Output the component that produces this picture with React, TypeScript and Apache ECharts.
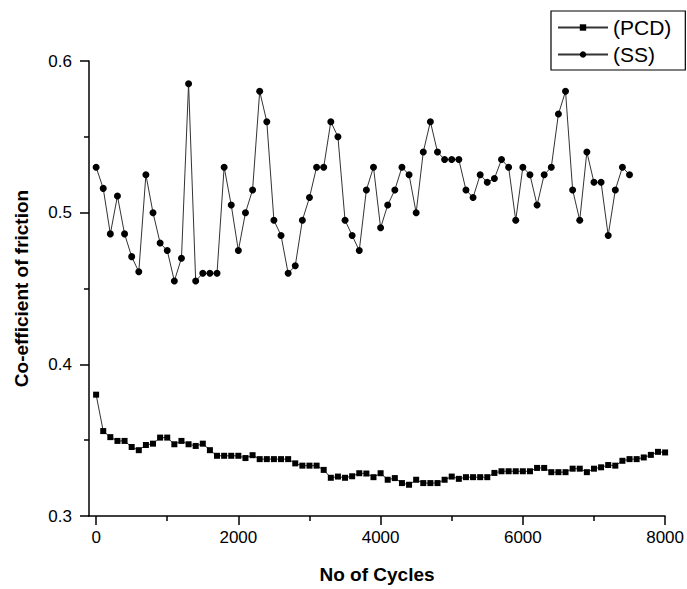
import React, { useEffect, useRef } from "react";
import * as echarts from "echarts";

const cycleStep = 100;
const seriesNames = ["(PCD)", "(SS)"];
const pcdValues = [
  0.38, 0.356, 0.352, 0.3495, 0.3495, 0.3455, 0.3434, 0.3468, 0.3477, 0.3517,
  0.3517, 0.3473, 0.3495, 0.3473, 0.3462, 0.3477, 0.3434, 0.3397, 0.3397, 0.3397,
  0.3397, 0.3382, 0.3401, 0.3375, 0.3375, 0.3375, 0.3375, 0.3375, 0.3347, 0.3332,
  0.3332, 0.3332, 0.3304, 0.3252, 0.326, 0.3252, 0.3262, 0.3282, 0.328, 0.3256,
  0.3282, 0.3239, 0.325, 0.3217, 0.3206, 0.3239, 0.3217, 0.3217, 0.3217, 0.3239,
  0.326, 0.3245, 0.3256, 0.3256, 0.3256, 0.3256, 0.3284, 0.3295, 0.3295, 0.3295,
  0.3295, 0.3295, 0.3317, 0.3317, 0.3289, 0.3289, 0.3289, 0.3312, 0.3312, 0.3289,
  0.3312, 0.3321, 0.3336, 0.3332, 0.3364, 0.3375, 0.3375, 0.3386, 0.3403, 0.3423,
  0.3419,
];
const ssValues = [
  0.53, 0.516, 0.486, 0.511, 0.486, 0.471, 0.461, 0.525, 0.5, 0.48,
  0.475, 0.455, 0.47, 0.585, 0.455, 0.46, 0.46, 0.46, 0.53, 0.505,
  0.475, 0.5, 0.515, 0.58, 0.56, 0.495, 0.485, 0.46, 0.465, 0.495,
  0.51, 0.53, 0.53, 0.56, 0.55, 0.495, 0.485, 0.475, 0.515, 0.53,
  0.49, 0.505, 0.515, 0.53, 0.525, 0.5, 0.54, 0.56, 0.54, 0.535,
  0.535, 0.535, 0.515, 0.51, 0.525, 0.52, 0.5225, 0.535, 0.53, 0.495,
  0.53, 0.525, 0.505, 0.525, 0.53, 0.565, 0.58, 0.515, 0.495, 0.54,
  0.52, 0.52, 0.485, 0.515, 0.53, 0.525,
];
const xTickValues = [0, 2000, 4000, 6000, 8000];
const xMinorTickValues = [1000, 3000, 5000, 7000];

const FONT = "'Liberation Sans', Arial, sans-serif";

export default function App() {
  const ref = useRef<HTMLDivElement>(null);
  useEffect(() => {
    if (!ref.current) return;
    const chart = echarts.init(ref.current, null, { renderer: "svg" });
    const axisLine = { show: true, onZero: false, lineStyle: { color: "#000", width: 1.5 } };
    const tickStyle = { color: "#000", width: 1.5 };
    chart.setOption({
      animation: false,
      backgroundColor: "#fff",
      textStyle: { fontFamily: FONT, color: "#000" },
      grid: { left: 89, right: 20, top: 61, bottom: 66, containLabel: false },
      legend: {
        data: seriesNames,
        orient: "vertical",
        left: 551,
        top: 11,
        itemWidth: 50,
        itemHeight: 8,
        itemGap: 6,
        padding: [6, 14, 5, 6],
        borderColor: "#000",
        borderWidth: 1.2,
        backgroundColor: "#fff",
        textStyle: { fontFamily: FONT, fontSize: 21, color: "#000" },
      },
      xAxis: [
        {
          type: "value",
          min: -100,
          max: 8000,
          name: "No of Cycles",
          nameLocation: "middle",
          nameGap: 49,
          nameTextStyle: { fontFamily: FONT, fontSize: 19, fontWeight: "bold", color: "#000" },
          axisLine,
          axisTick: { show: true, customValues: xTickValues, length: 9, lineStyle: tickStyle },
          axisLabel: {
            customValues: xTickValues,
            fontSize: 17,
            color: "#000",
            margin: 13,
            fontFamily: FONT,
            formatter: (v: number) => String(v),
          },
          splitLine: { show: false },
        },
        {
          type: "value",
          min: -100,
          max: 8000,
          position: "bottom",
          axisLine: { show: false, onZero: false },
          axisTick: { show: true, customValues: xMinorTickValues, length: 5, lineStyle: tickStyle },
          axisLabel: { show: false },
          splitLine: { show: false },
        },
      ],
      yAxis: {
        type: "value",
        min: 0.3,
        max: 0.6,
        interval: 0.1,
        name: "Co-efficient of friction",
        nameLocation: "middle",
        nameGap: 58,
        nameTextStyle: { fontFamily: FONT, fontSize: 19, fontWeight: "bold", color: "#000" },
        axisLine,
        axisTick: { show: true, length: 9, lineStyle: tickStyle },
        minorTick: { show: true, splitNumber: 2, length: 5, lineStyle: tickStyle },
        axisLabel: {
          fontSize: 17,
          color: "#000",
          margin: 17,
          fontFamily: FONT,
          formatter: (v: number) => v.toFixed(1),
        },
        splitLine: { show: false },
      },
      series: [
        {
          name: seriesNames[0],
          type: "line",
          xAxisIndex: 0,
          data: pcdValues.map((v, i) => [i * cycleStep, v]),
          symbol: "rect",
          symbolSize: 6,
          itemStyle: { color: "#000" },
          lineStyle: { color: "#333", width: 1 },
        },
        {
          name: seriesNames[1],
          type: "line",
          xAxisIndex: 0,
          data: ssValues.map((v, i) => [i * cycleStep, v]),
          symbol: "circle",
          symbolSize: 7,
          itemStyle: { color: "#000" },
          lineStyle: { color: "#333", width: 1 },
        },
      ],
    });
    return () => chart.dispose();
  }, []);
  return (
    <div
      ref={ref}
      style={{ position: "fixed", left: 0, top: 0, width: 687, height: 589, background: "#fff" }}
    />
  );
}
